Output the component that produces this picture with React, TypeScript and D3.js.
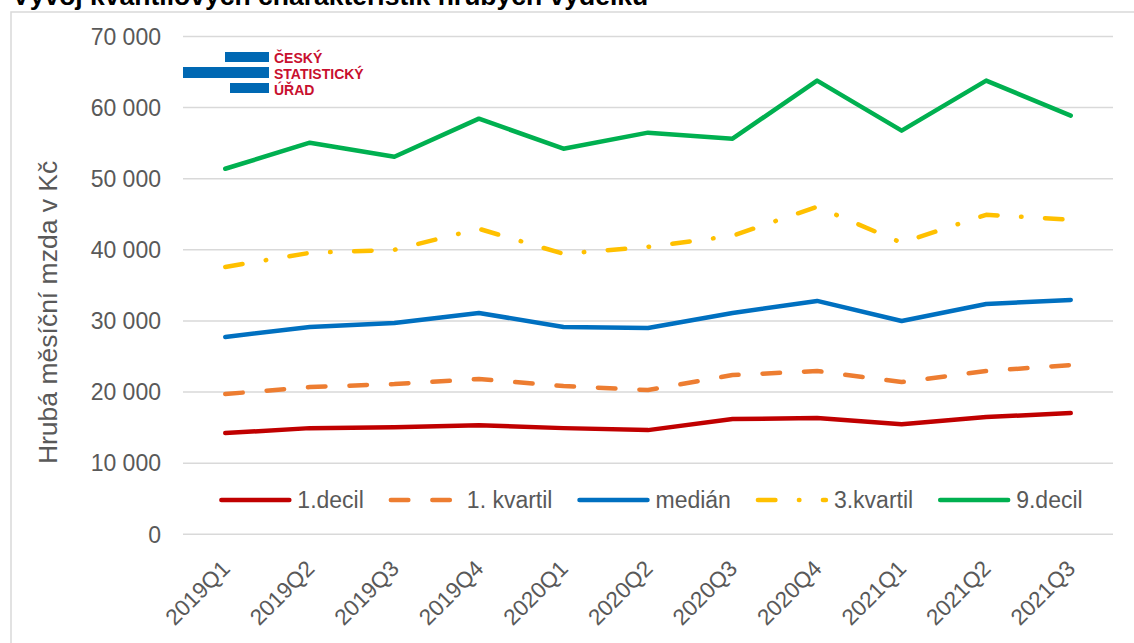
import * as d3 from "d3";
import React, { useRef, useEffect } from "react";

const width = 1134;
const height = 643;
const plot = { left: 183, right: 1113, top: 36.5, bottom: 534.3 };
const font = "'Liberation Sans', Arial, sans-serif";
const textColor = "#595959";
const gridColor = "#d9d9d9";

const quarters = ["2019Q1", "2019Q2", "2019Q3", "2019Q4", "2020Q1", "2020Q2", "2020Q3", "2020Q4", "2021Q1", "2021Q2", "2021Q3"];
const yTicks = [0, 10000, 20000, 30000, 40000, 50000, 60000, 70000];

const decil1 = [14230, 14930, 15070, 15350, 14930, 14650, 16200, 16340, 15490, 16480, 17040];
const kvartil1 = [19720, 20700, 21130, 21830, 20840, 20280, 22390, 22960, 21410, 22960, 23800];
const median = [27750, 29150, 29720, 31130, 29150, 29010, 31130, 32820, 30000, 32390, 32960];
const kvartil3 = [37600, 39580, 40000, 42960, 39440, 40420, 41970, 46060, 40990, 44930, 44230];
const decil9 = [51400, 55070, 53100, 58450, 54220, 56480, 55630, 63800, 56760, 63800, 58870];

const series = [
    { name: "1.decil", values: decil1, color: "#c00000", dash: null },
    { name: "1. kvartil", values: kvartil1, color: "#ed7d31", dash: "17.5 24" },
    { name: "medián", values: median, color: "#0070c0", dash: null },
    { name: "3.kvartil", values: kvartil3, color: "#ffc000", dash: "17.5 23.5 0.5 23.5" },
    { name: "9.decil", values: decil9, color: "#00b050", dash: null },
];

const fmt = (v: number) => d3.format(",")(v).replace(/,/g, " ");

export default function App() {
    const ref = useRef<SVGSVGElement>(null);

    useEffect(() => {
        if (!ref.current) return;
        const svg = d3.select(ref.current);
        svg.selectAll("*").remove();

        svg.append("rect").attr("width", width).attr("height", height).attr("fill", "#fff");

        // title, cut off at the top of the picture
        svg.append("text")
            .attr("x", 12).attr("y", 5)
            .attr("font-family", font).attr("font-size", 26.5).attr("font-weight", "bold")
            .attr("fill", "#000")
            .text("Vývoj kvantilových charakteristik hrubých výdělků");

        // chart frame
        svg.append("rect")
            .attr("x", 11).attr("y", 12)
            .attr("width", width + 20).attr("height", height + 20)
            .attr("fill", "#fff").attr("stroke", gridColor).attr("stroke-width", 1.5);

        const x = d3.scalePoint<string>().domain(quarters).range([plot.left, plot.right]).padding(0.5);
        const y = d3.scaleLinear().domain([0, 70000]).range([plot.bottom, plot.top]);

        // grid
        svg.append("g").selectAll("line").data(yTicks).join("line")
            .attr("x1", plot.left).attr("x2", plot.right)
            .attr("y1", d => y(d)).attr("y2", d => y(d))
            .attr("stroke", gridColor).attr("stroke-width", 1.5);

        svg.append("g").selectAll("text").data(yTicks).join("text")
            .attr("x", 161).attr("y", d => y(d)).attr("dy", "0.36em")
            .attr("text-anchor", "end")
            .attr("font-family", font).attr("font-size", 23).attr("fill", textColor)
            .text(d => fmt(d));

        svg.append("text")
            .attr("transform", `translate(57,${(plot.top + plot.bottom) / 2 + 27}) rotate(-90)`)
            .attr("text-anchor", "middle")
            .attr("font-family", font).attr("font-size", 26.5).attr("fill", textColor)
            .text("Hrubá měsíční mzda v Kč");

        svg.append("g").selectAll("text").data(quarters).join("text")
            .attr("transform", d => `translate(${x(d)! + 6},${570}) rotate(-45)`)
            .attr("text-anchor", "end")
            .attr("font-family", font).attr("font-size", 22.5).attr("fill", textColor)
            .text(d => d);

        // logo
        const logo = svg.append("g");
        const bars = [[225, 52, 62], [183, 67, 78], [230, 83, 93]];
        logo.selectAll("rect").data(bars).join("rect")
            .attr("x", d => d[0]).attr("y", d => d[1])
            .attr("width", d => 269 - d[0]).attr("height", d => d[2] - d[1])
            .attr("fill", "#0068b3");
        logo.selectAll("text").data(["ČESKÝ", "STATISTICKÝ", "ÚŘAD"]).join("text")
            .attr("x", 274).attr("y", (d, i) => 62.5 + i * 16)
            .attr("font-family", font).attr("font-size", 14).attr("font-weight", "bold")
            .attr("fill", "#c8102e")
            .text(d => d);

        // lines
        const line = d3.line<number>()
            .x((d, i) => x(quarters[i])!)
            .y(d => y(d));

        svg.append("g").selectAll("path").data(series).join("path")
            .attr("d", d => line(d.values))
            .attr("fill", "none")
            .attr("stroke", d => d.color)
            .attr("stroke-width", 4.5)
            .attr("stroke-linecap", "round")
            .attr("stroke-linejoin", "round")
            .attr("stroke-dasharray", d => d.dash);

        // legend
        const lineLen = 68, textGap = 8, itemGap = 27, ly = 500;
        const legend = svg.append("g");
        const items = legend.selectAll("g").data(series).join("g");
        items.append("line")
            .attr("x1", 0).attr("x2", lineLen).attr("y1", 0).attr("y2", 0)
            .attr("stroke", d => d.color).attr("stroke-width", 4.5)
            .attr("stroke-linecap", "round")
            .attr("stroke-dasharray", d => d.dash);
        items.append("text")
            .attr("x", lineLen + textGap).attr("y", 0).attr("dy", "0.36em")
            .attr("font-family", font).attr("font-size", 23).attr("fill", textColor)
            .text(d => d.name);

        const widths: number[] = [];
        items.each(function () {
            const t = d3.select(this).select("text").node() as SVGTextElement;
            widths.push(lineLen + textGap + t.getComputedTextLength());
        });
        const total = d3.sum(widths) + itemGap * (widths.length - 1);
        let cx = (plot.left + plot.right) / 2 - total / 2 + 4;
        items.attr("transform", (d, i) => {
            const t = `translate(${cx},${ly})`;
            cx += widths[i] + itemGap;
            return t;
        });
    }, []);

    return (
        <svg
            ref={ref}
            width={width}
            height={height}
            style={{ position: "absolute", left: 0, top: 0 }}
        />
    );
}
